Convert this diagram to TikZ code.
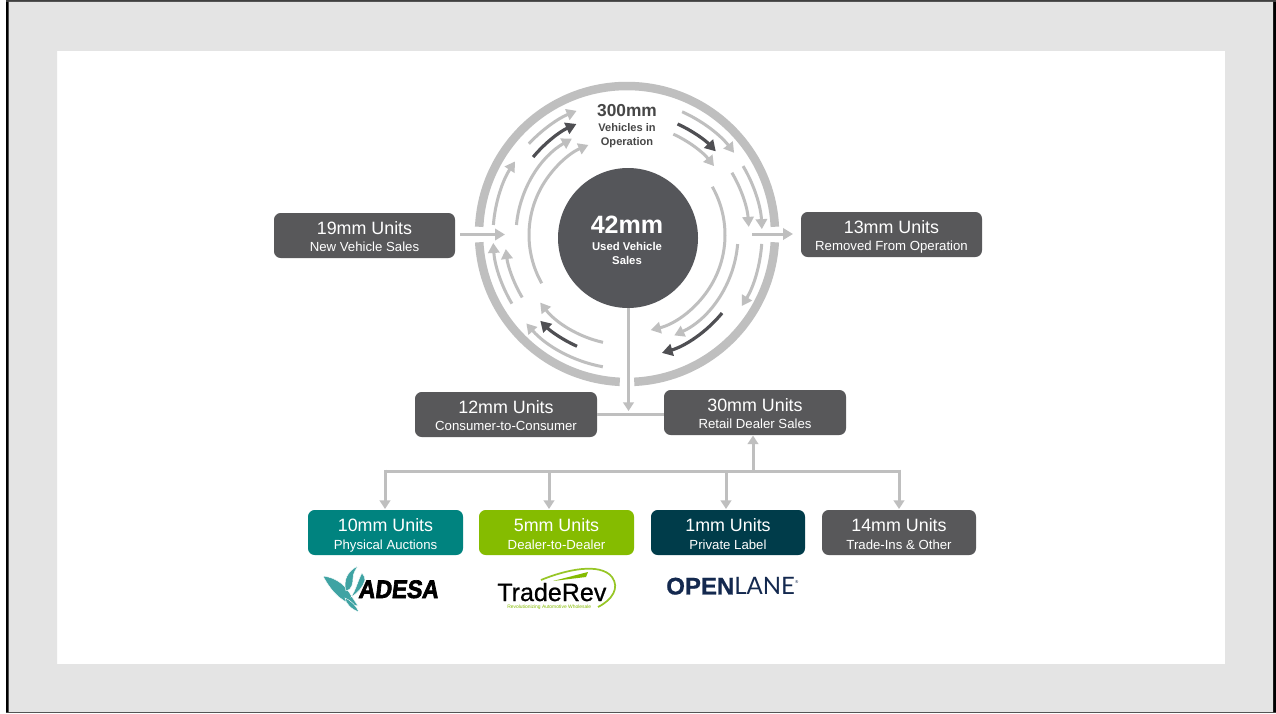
\documentclass[tikz,border=0pt]{standalone}
\usepackage{fontspec}
\setmainfont{Liberation Sans}
\newfontfamily\adesafont[FakeBold=2.6,FakeStretch=0.9,FakeSlant=0.12]{Liberation Sans Bold}
\newfontfamily\treadfont[FakeBold=0.7]{Liberation Sans}
\newfontfamily\openfont[FakeBold=0.8]{Liberation Sans Bold}
\newfontfamily\lanefont{Lato}
\usetikzlibrary{arrows.meta}
\definecolor{lg}{HTML}{BFBFBF}
\definecolor{dk}{HTML}{4F4F53}
\definecolor{boxg}{HTML}{58585A}
\definecolor{circ}{HTML}{55565A}
\definecolor{teal1}{HTML}{00837F}
\definecolor{green1}{HTML}{85BC00}
\definecolor{navy1}{HTML}{003C4A}
\definecolor{bird}{HTML}{3FA3A3}
\definecolor{ol}{HTML}{14294F}
\definecolor{bgg}{HTML}{E4E4E4}
\tikzset{
  flow/.style={draw=lg,line width=3*0.75pt,-{Triangle[length=7.5pt,width=8.5pt]}},
  flowdk/.style={draw=dk,line width=3.2*0.75pt,-{Triangle[length=8pt,width=9pt]}},
  ring/.style={draw=lg,line width=8.5*0.75pt},
  conn/.style={draw=lg,line width=3*0.75pt},
  connarrow/.style={conn,-{Triangle[length=6.5pt,width=8pt]}},
  unitbox/.style={rounded corners=5pt,minimum height=45*0.75pt,text=white,align=center,inner sep=0pt,font=\fontsize{13.4pt}{16pt}\selectfont},
  plume/.style={fill=bird,draw=white,line width=0.3pt},
}
\newcommand{\ulabel}[2]{\rule{0pt}{14pt}#1\\[-3.25pt]{\fontsize{9.9pt}{12pt}\selectfont\rule[-2.2pt]{0pt}{2.2pt}#2}}
\newcommand{\ulabellow}[2]{\rule{0pt}{14.3pt}#1\\[-2.5pt]{\fontsize{9.9pt}{12pt}\selectfont\rule[-2.2pt]{0pt}{2.2pt}#2}}
\newcommand{\flowarc}[4][flow]{\draw[#1] ([shift={(627,235)}]#2:#4) arc[start angle=#2,end angle=#3,radius=#4];}
\begin{document}
\begin{tikzpicture}[x=0.75pt,y=-0.75pt]
\useasboundingbox (0,0) rectangle (1276,713);
% frame
\fill[white] (0,0) rectangle (1276,713);
\fill[black] (6,0) rectangle (8.6,713);
\fill[black] (1273,0) rectangle (1276,713);
\fill[black!75] (6,0) rectangle (1276,2);
\fill[black!75] (6,712) rectangle (1276,713);
\fill[bgg,even odd rule] (8.6,2) rectangle (1273,712) (57,51) rectangle (1225,664);
% outer ring
\draw[ring] ([shift={(627,234)}]182.8:148) arc[start angle=182.8,end angle=357.2,radius=148];
\draw[ring] ([shift={(627,234)}]176.8:148) arc[start angle=176.8,end angle=92.8,radius=148];
\draw[ring] ([shift={(627,234)}]3.2:148) arc[start angle=3.2,end angle=87.2,radius=148];
% inner flow arcs
\flowarc{222.9}{247.9}{134}
\flowarc{184.3}{213.3}{134}
\flowarc{185.2}{240.2}{111}
\flowarc{150.5}{246.8}{98}
\flowarc[flowdk]{219.7}{245.5}{122}
\flowarc{-65.9}{-37.5}{135}
\flowarc{-65.3}{-38.4}{111}
\flowarc[flowdk]{-65.5}{-43.3}{122}
\flowarc{-30.7}{-2.5}{135}
\flowarc{-30.7}{-3.8}{122}
\flowarc{-29.5}{76}{98}
\flowarc{4.7}{64.8}{111}
\flowarc{3.8}{31.7}{135}
\flowarc[flowdk]{39.4}{73.5}{123}
\flowarc{100.4}{138.7}{134}
\flowarc{102.6}{142.1}{110}
\flowarc[flowdk]{114.2}{135.3}{122}
\flowarc{149.2}{176.6}{134}
\flowarc{149.2}{173.4}{122}
% centre
\node[circle,fill=circ,minimum size=140*0.75pt,inner sep=0pt] (used) at (628,238) {};
\node[text=white,align=center,font=\bfseries\fontsize{18.8pt}{21pt}\selectfont] (usedn) at (627,225) {42mm};
\node[text=white,align=center,font=\bfseries\fontsize{8.5pt}{10.6pt}\selectfont] (usedt) at (627,253.5) {Used Vehicle\\Sales};
\node[text=black!72,font=\bfseries\fontsize{13pt}{15pt}\selectfont] (vion) at (627,111) {300mm};
\node[text=black!72,align=center,font=\bfseries\fontsize{8.3pt}{10.5pt}\selectfont] (viot) at (627,135.5) {Vehicles in\\Operation};
% boxes
\node[unitbox,fill=boxg,minimum width=181*0.75pt] (nv) at (364.5,235.5) {\ulabel{19mm Units}{New Vehicle Sales}};
\node[unitbox,fill=boxg,minimum width=181*0.75pt] (rem) at (891.5,234.5) {\ulabel{13mm Units}{Removed From Operation}};
\node[unitbox,fill=boxg,minimum width=182*0.75pt] (c2c) at (506,414.5) {\ulabel{12mm Units}{Consumer-to-Consumer}};
\node[unitbox,fill=boxg,minimum width=182*0.75pt] (ret) at (755,412.5) {\ulabel{30mm Units}{Retail Dealer Sales}};
\node[unitbox,fill=teal1,minimum width=155*0.75pt] (pa) at (385.5,532.5) {\ulabellow{10mm Units}{Physical Auctions}};
\node[unitbox,fill=green1,minimum width=155*0.75pt] (dd) at (556.5,532.5) {\ulabellow{5mm Units}{Dealer-to-Dealer}};
\node[unitbox,fill=navy1,minimum width=154*0.75pt] (pl) at (728,532.5) {\ulabellow{1mm Units}{Private Label}};
\node[unitbox,fill=boxg,minimum width=154*0.75pt] (ti) at (899,532.5) {\ulabellow{14mm Units}{Trade-Ins \& Other}};
% connectors
\coordinate (lin) at (460,234.5);
\coordinate (lout) at (505,234.5);
\coordinate (rin) at (752,234);
\coordinate (rout) at (793,234);
\draw[flow] (lin) -- (lout);
\draw[flow] (rin) -- (rout);
\coordinate (drop) at (628.5,411);
\draw[connarrow] (used.south -| drop) -- (drop);
\draw[conn] (c2c.east |- 0,414) -- (ret.west |- 0,414);
\coordinate (busL) at (385,471);
\coordinate (busR) at (899,471);
\draw[conn] (busL) -- (busR);
\draw[connarrow] (753,471) -- (753,435.5);
\draw[connarrow] (385,469.5) -- (385,509);
\draw[connarrow] (549,471) -- (549,509);
\draw[connarrow] (726,471) -- (726,509);
\draw[connarrow] (899,469.5) -- (899,509);
% ADESA logo
\fill[plume] (323,576) .. controls (338,578) and (346,586) .. (352,597) .. controls (354,600) and (356,603) .. (358,606) .. controls (345,604) and (333,595) .. (323,576) -- cycle;
\fill[plume] (358,566) .. controls (347,571) and (343,581) .. (346,591) .. controls (352,590) and (353,583) .. (353,578) .. controls (353,573) and (356,569) .. (358,566) -- cycle;
\fill[plume] (362,573) .. controls (358,580) and (356,590) .. (351,597) .. controls (358,593) and (363,587) .. (365,580) .. controls (365,578) and (364,575) .. (362,573) -- cycle;
\fill[plume] (345,598) .. controls (352,601) and (356,606) .. (359,612) .. controls (351,609) and (346,604) .. (345,598) -- cycle;
\node[anchor=base west,inner sep=0pt,text=black,font=\adesafont\fontsize{19pt}{21pt}\selectfont] (adesa) at (358,598) {ADESA};
% TradeRev logo
\draw[green1!85!white,line width=1.3pt] (541,580) .. controls (565,570) and (600,562) .. (612,577) .. controls (620,588) and (612,600) .. (598,607);
\fill[green1] (553,581) -- (588,572) -- (586,577) -- cycle;
\node[anchor=base west,inner sep=0pt,text=black,font=\treadfont\fontsize{18.8pt}{21pt}\selectfont] (traderev) at (497,601) {TradeRev};
\node[anchor=west,inner sep=0pt,text=green1,font=\fontsize{3.7pt}{4pt}\selectfont] (tag) at (507,607.5) {Revolutionizing Automotive Wholesale};
% OPENLANE logo
\node[anchor=west,inner sep=0pt,text=ol,font=\openfont\fontsize{18pt}{20pt}\selectfont] (openl) at (666,586) {OPEN\lanefont\mdseries LANE\raisebox{8.5pt}{\fontsize{3pt}{3pt}\selectfont ®}};
\end{tikzpicture}
\end{document}
